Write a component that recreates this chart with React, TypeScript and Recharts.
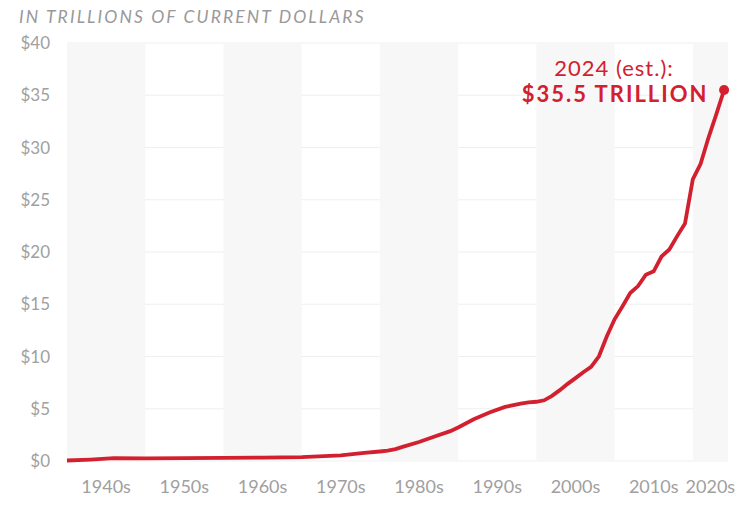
import {
  LineChart,
  Line,
  XAxis,
  YAxis,
  CartesianGrid,
  ReferenceArea,
  ReferenceDot
} from "recharts";

const years = [
  1940, 1943, 1946, 1950, 1955, 1960, 1965, 1970, 1975, 1978, 1980, 1981,
  1982, 1983, 1985, 1987, 1989, 1990, 1992, 1994, 1996, 1998, 1999, 2000,
  2001, 2002, 2003, 2004, 2005, 2006, 2007, 2008, 2009, 2010, 2011, 2012,
  2013, 2014, 2015, 2016, 2017, 2018, 2019, 2020, 2021, 2022, 2023, 2024
];
const debt = [
  0.05, 0.14, 0.27, 0.26, 0.27, 0.29, 0.32, 0.38, 0.53, 0.78, 0.91, 0.99,
  1.14, 1.38, 1.82, 2.35, 2.86, 3.21, 4.0, 4.64, 5.18, 5.48, 5.61, 5.67,
  5.81, 6.23, 6.78, 7.38, 7.93, 8.5, 9.01, 10.02, 11.91, 13.56, 14.79, 16.07,
  16.74, 17.82, 18.15, 19.57, 20.24, 21.52, 22.72, 26.95, 28.43, 30.93, 33.17, 35.5
];
const decades = [1940, 1950, 1960, 1970, 1980, 1990, 2000, 2010, 2020];
const decadeLabels = ["1940s", "1950s", "1960s", "1970s", "1980s", "1990s", "2000s", "2010s", "2020s"];
const yTicks = [0, 5, 10, 15, 20, 25, 30, 35, 40];

const X_END = 2024.5;
const RED = "#d2202f";
const GRAY = "#a0a0a0";

const data = years.map((year, i) => ({ year, debt: debt[i] }));
const tickPos = decades.map((d) => Math.min(d + 5, (d + X_END) / 2));
const shaded = decades.filter((_, i) => i % 2 === 0);

const last = data[data.length - 1];

const EndLabel = (props: any) => {
  const { viewBox } = props;
  // centre of the dot
  const cx = viewBox.x + (viewBox.width || 0) / 2;
  const cy = viewBox.y + (viewBox.height || 0) / 2;
  return (
    <g>
      <text
        x={cx - 110}
        y={cy - 14}
        textAnchor="middle"
        fill={RED}
        fontSize={22}
        letterSpacing={1}
        fontFamily="Lato, sans-serif"
      >
        {`${last.year} (est.):`}
      </text>
      <text
        x={cx - 109}
        y={cy + 12}
        textAnchor="middle"
        fill={RED}
        fontSize={22}
        fontWeight={700}
        letterSpacing={2}
        fontFamily="Lato, sans-serif"
      >
        {`$${last.debt} TRILLION`}
      </text>
    </g>
  );
};

export default function App() {
  return (
    <div style={{ position: "fixed", left: 0, top: 0, width: 743, height: 508, background: "#fff" }}>
      <div
        style={{
          position: "absolute",
          left: 19,
          top: 6,
          fontFamily: "Lato, sans-serif",
          fontStyle: "italic",
          fontSize: 17.5,
          letterSpacing: 2.1,
          color: "#999"
        }}
      >
        IN TRILLIONS OF CURRENT DOLLARS
      </div>
      <LineChart
        width={743}
        height={508}
        data={data}
        margin={{ top: 43, right: 15, left: 0, bottom: 0 }}
      >
        {shaded.map((d) => (
          <ReferenceArea
            key={d}
            x1={d}
            x2={Math.min(d + 10, X_END)}
            y1={0}
            y2={40}
            fill="#f7f7f7"
            fillOpacity={1}
            stroke="none"
            ifOverflow="hidden"
          />
        ))}
        <CartesianGrid vertical={false} stroke="#efefef" fill="none" />
        <XAxis
          dataKey="year"
          type="number"
          domain={[1940, X_END]}
          ticks={tickPos}
          tickFormatter={(v: number) => decadeLabels[tickPos.indexOf(v)] ?? ""}
          axisLine={false}
          tickLine={false}
          tickMargin={13}
          height={47}
          interval={0}
          tick={{ fontSize: 18, fill: GRAY, fontFamily: "Lato, sans-serif" }}
        />
        <YAxis
          domain={[0, 40]}
          ticks={yTicks}
          tickFormatter={(v: number) => `$${v}`}
          axisLine={false}
          tickLine={false}
          tickMargin={11}
          width={67}
          tick={{ fontSize: 17, fill: GRAY, fontFamily: "Lato, sans-serif" }}
        />
        <Line
          type="linear"
          dataKey="debt"
          stroke={RED}
          strokeWidth={3.8}
          dot={false}
          activeDot={false}
          isAnimationActive={false}
        />
        <ReferenceDot
          x={last.year}
          y={last.debt}
          r={5}
          fill={RED}
          stroke="none"
          label={<EndLabel />}
        />
      </LineChart>
    </div>
  );
}
